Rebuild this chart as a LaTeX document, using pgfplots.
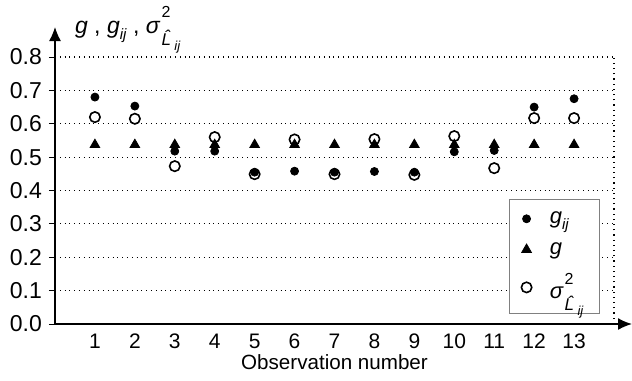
\documentclass[border=0pt]{standalone}
\usepackage{fontspec}
\setmainfont{Liberation Sans}
\usepackage{amsmath}
\usepackage{pgfplots}
\pgfplotsset{compat=1.18}
\usepackage{pgfplotstable}
\usetikzlibrary{arrows.meta}

\pgfplotstableread{
x gij g s
1 0.680 0.537 0.620
2 0.653 0.537 0.615
3 0.518 0.537 0.473
4 0.518 0.537 0.560
5 0.455 0.537 0.449
6 0.458 0.537 0.553
7 0.455 0.537 0.449
8 0.457 0.537 0.554
9 0.455 0.537 0.447
10 0.516 0.537 0.563
11 0.520 0.537 0.467
12 0.650 0.537 0.617
13 0.675 0.537 0.617
}\data

\newcommand{\sigL}{\textit{σ}\kern0.5pt\rlap{\raisebox{1.25ex}{\fontsize{8}{9}\selectfont 2}}\raisebox{-1.05ex}{\fontsize{8.5}{9}\selectfont\textit{\^{L}}\kern0.3pt\raisebox{-0.55ex}{\fontsize{6.5}{7}\selectfont\textit{ij}}}}
\newcommand{\gij}{\textit{g}\raisebox{-0.55ex}{\fontsize{7.5}{8}\selectfont\textit{ij}}}

\begin{document}
\begin{tikzpicture}
\begin{axis}[
  scale only axis,
  width=279.5pt, height=133.5pt,
  xmin=0, xmax=14, ymin=0, ymax=0.8,
  axis x line*=bottom, axis y line*=left,
  x axis line style={-{Latex[length=7pt,width=6pt]}, shorten >=-9pt, line width=0.8pt},
  y axis line style={-{Latex[length=7pt,width=6pt]}, shorten >=-15pt, line width=0.6pt},
  xtick={1,...,13},
  ytick={0,0.1,...,0.8},
  xtick style={draw=none},
  ytick style={black, line width=0.5pt},
  tick align=outside,
  major tick length=3pt,
  ymajorgrids,
  grid style={dotted, black, line width=0.6pt},
  yticklabel style={/pgf/number format/fixed, /pgf/number format/fixed zerofill, /pgf/number format/precision=1, /pgf/number format/assume math mode=true, font=\fontsize{11.5}{13}\selectfont},
  xticklabel style={/pgf/number format/assume math mode=true, font=\fontsize{10.5}{12}\selectfont, yshift=1.5pt},
  xlabel={Observation number},
  xlabel style={font=\fontsize{10.3}{12}\selectfont, yshift=4pt},
  clip=false,
  legend style={at={(0.975,0.037)}, anchor=south east, draw=gray, line width=0.4pt,
    font=\fontsize{11}{13}\selectfont, row sep=4pt, inner xsep=6pt, inner ysep=4pt,
    /tikz/every odd column/.append style={column sep=7pt}},
  legend cell align=left,
]
\addplot[only marks, mark=*, black, mark size=2pt] table[x=x,y=gij]{\data};
\addlegendentry{\gij}
\addplot[only marks, mark=triangle*, black, mark size=2.8pt] table[x=x,y=g]{\data};
\addlegendentry{\textit{g}}
\addplot[only marks, mark=o, black, mark size=2.6pt, mark options={line width=0.8pt}] table[x=x,y=s]{\data};
\addlegendentry{\sigL}
\draw[dotted, black, line width=0.6pt] (axis cs:14,0) -- (axis cs:14,0.8);
\node[anchor=base west, font=\fontsize{11.5}{13}\selectfont] at ([xshift=6.5pt, yshift=12pt]rel axis cs:0,1)
  {\textit{g} , \gij\ , \sigL};
\path ([xshift=-27.5pt, yshift=-28pt]rel axis cs:0,0) -- ([xshift=9pt, yshift=27.5pt]rel axis cs:1,1);
\end{axis}
\end{tikzpicture}
\end{document}
